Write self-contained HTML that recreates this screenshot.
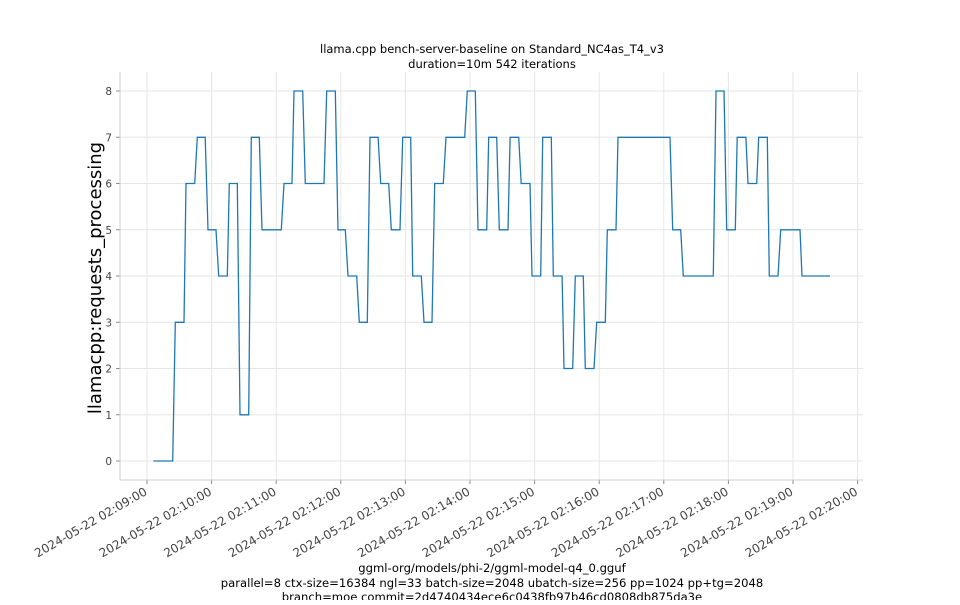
<!DOCTYPE html>
<html><head><meta charset="utf-8"><style>
body{margin:0;background:#fff;}
svg text{font-family:"DejaVu Sans","Liberation Sans",sans-serif;}
</style></head><body>
<svg id="chart" width="960" height="600" xmlns="http://www.w3.org/2000/svg">
<text x="492" y="53" font-size="11.5" text-anchor="middle">llama.cpp bench-server-baseline on Standard_NC4as_T4_v3</text>
<text x="492" y="68" font-size="11.5" text-anchor="middle">duration=10m 542 iterations</text>
<g id="grid"></g>
<g id="axes"></g>
<text transform="translate(101,278) rotate(-90)" font-size="18" text-anchor="middle">llamacpp:requests_processing</text>
<text x="492" y="572" font-size="11.6" text-anchor="middle">ggml-org/models/phi-2/ggml-model-q4_0.gguf</text>
<text x="492" y="587" font-size="11.6" text-anchor="middle">parallel=8 ctx-size=16384 ngl=33 batch-size=2048 ubatch-size=256 pp=1024 pp+tg=2048</text>
<text x="492" y="601" font-size="11.6" text-anchor="middle">branch=moe commit=2d4740434ece6c0438fb97b46cd0808db875da3e</text>
</svg>
<script>
const yTicks = [0,1,2,3,4,5,6,7,8];
const xTickLabels = ["2024-05-22 02:09:00","2024-05-22 02:10:00","2024-05-22 02:11:00","2024-05-22 02:12:00","2024-05-22 02:13:00","2024-05-22 02:14:00","2024-05-22 02:15:00","2024-05-22 02:16:00","2024-05-22 02:17:00","2024-05-22 02:18:00","2024-05-22 02:19:00","2024-05-22 02:20:00"];
const xTickMinutes = [0,1,2,3,4,5,6,7,8,9,10,11];
// seconds since 02:09:00: start and end of each flat segment
const segStart = [5.9,26.3,36.2,46.7,56.7,66.6,76.4,86.4,96.9,106.8,127.2,136.5,147.0,166.9,177.4,186.7,197.2,207.1,217.1,226.9,237.5,246.8,257.3,267.2,277.7,297.5,307.4,317.4,327.2,337.2,347.6,357.6,367.5,377.4,387.3,397.8,407.1,417.7,427.5,437.5,488.3,498.1,528.5,538.4,548.2,558.2,568.1,578.0,588.6,608.4];
const segEnd = [23.9,34.4,44.3,54.1,64.1,74.6,83.9,94.5,104.3,124.7,134.7,144.6,164.4,174.9,184.2,194.8,204.6,214.6,224.5,235.0,244.9,254.8,264.7,275.2,295.1,304.9,315.5,324.8,335.3,345.2,355.7,365.7,375.5,385.5,395.4,405.2,415.2,425.7,435.6,485.8,495.7,526.0,535.9,546.4,556.3,566.3,576.1,586.1,606.5,634.4];
const segValue = [0,3,6,7,5,4,6,1,7,5,6,8,6,8,5,4,3,7,6,5,7,4,3,6,7,8,5,7,5,7,6,4,7,4,2,4,2,3,5,7,5,4,8,5,7,6,7,4,5,4];

const NS="http://www.w3.org/2000/svg";
const L=120,R=863,T=72,B=480;
function xs(sec){return 147+sec/60*64.6;}
function ys(v){return 461-v*46.25;}
const grid=document.getElementById('grid'), axes=document.getElementById('axes'), svg=document.getElementById('chart');
function mk(tag,attrs,parent){const e=document.createElementNS(NS,tag);for(const k in attrs)e.setAttribute(k,attrs[k]);parent.appendChild(e);return e;}

yTicks.forEach(v=>{
  const g=mk('line',{x1:L,x2:R,y1:ys(v),y2:ys(v),stroke:'#e6e6e6','stroke-width':1},grid);
  
  
  const t=mk('line',{x1:L-4,x2:L,y1:ys(v),y2:ys(v),stroke:'#888'},axes);
  
  
  const tx=mk('text',{x:L-3-5,y:ys(v)+4,'font-size':10.5,'text-anchor':'end',fill:'#444'},axes);
  tx.textContent=v;
  
  
});
xTickMinutes.forEach((m,i)=>{
  const x=xs(m*60);
  const g=mk('line',{x1:x,x2:x,y1:T,y2:B,stroke:'#e6e6e6','stroke-width':1},grid);
  
  
  const t=mk('line',{x1:x,x2:x,y1:B,y2:B+4,stroke:'#888'},axes);
  
  
  const tx=mk('text',{transform:`translate(${x+1},${B+14}) rotate(-30)`,'font-size':12,'text-anchor':'end',fill:'#444'},axes);
  tx.textContent=xTickLabels[i];
  
  
});
const sl=mk('line',{x1:L,x2:L,y1:T,y2:B,stroke:'#ccc'},axes);


const sb=mk('line',{x1:L,x2:R,y1:B,y2:B,stroke:'#ccc'},axes);



let pts=[];
segValue.forEach((v,i)=>{pts.push(xs(segStart[i]).toFixed(1)+','+ys(v).toFixed(1));pts.push(xs(segEnd[i]).toFixed(1)+','+ys(v).toFixed(1));});
const line=mk('polyline',{points:pts.join(' '),fill:'none',stroke:'#1f77b4','stroke-width':1.3},svg);


</script>
</body></html>
